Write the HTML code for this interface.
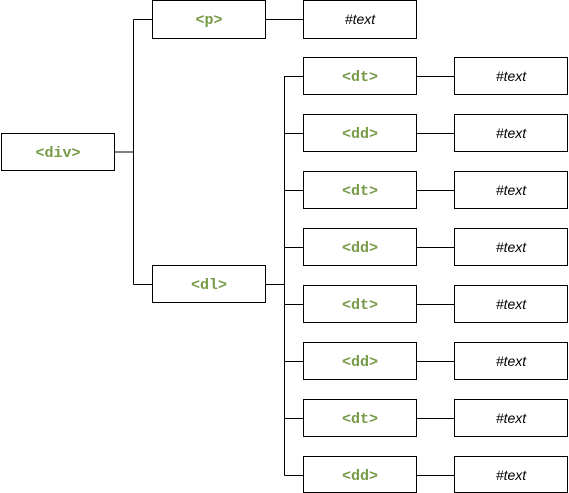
<!DOCTYPE html>
<html><head><style>body{margin:0;background:#fff}
.m{font-family:"Liberation Mono",monospace;font-weight:bold;font-size:15px;fill:#769a47;text-anchor:middle}
.t{font-family:"Liberation Sans",sans-serif;font-style:italic;font-size:14px;text-anchor:middle}
</style></head><body>
<svg width="569" height="493" xmlns="http://www.w3.org/2000/svg" style="display:block">
<g fill="none" stroke="#000" stroke-width="1">
<rect x="1.5" y="133.5" width="113" height="37"/>
<rect x="152.5" y="0.5" width="113" height="38"/>
<rect x="303.5" y="0.5" width="113" height="38"/>
<rect x="152.5" y="265.5" width="113" height="37"/>
<path d="M114.5 152H133.5M133.5 19.5V284.5M133.5 19.5H152.5M133.5 284.5H152.5M265.5 19.5H303.5M265.5 284.5H284.5M284.5 76V475.5"/>
<rect x="303.5" y="57.5" width="113" height="37"/><rect x="454.5" y="57.5" width="113" height="37"/>
<rect x="303.5" y="114.5" width="113" height="37"/><rect x="454.5" y="114.5" width="113" height="37"/>
<rect x="303.5" y="171.5" width="113" height="37"/><rect x="454.5" y="171.5" width="113" height="37"/>
<rect x="303.5" y="228.5" width="113" height="37"/><rect x="454.5" y="228.5" width="113" height="37"/>
<rect x="303.5" y="285.5" width="113" height="37"/><rect x="454.5" y="285.5" width="113" height="37"/>
<rect x="303.5" y="342.5" width="113" height="37"/><rect x="454.5" y="342.5" width="113" height="37"/>
<rect x="303.5" y="399.5" width="113" height="37"/><rect x="454.5" y="399.5" width="113" height="37"/>
<rect x="303.5" y="456.5" width="113" height="36"/><rect x="454.5" y="456.5" width="113" height="36"/>
<path d="M284.5 76.5H303.5M416.5 76.5H454.5M284.5 133.5H303.5M416.5 133.5H454.5M284.5 190.5H303.5M416.5 190.5H454.5M284.5 247.5H303.5M416.5 247.5H454.5M284.5 304.5H303.5M416.5 304.5H454.5M284.5 361.5H303.5M416.5 361.5H454.5M284.5 418.5H303.5M416.5 418.5H454.5M284.5 475.5H303.5M416.5 475.5H454.5"/>
</g>
<text class="m" x="58" y="157">&lt;div&gt;</text>
<text class="m" x="209" y="24">&lt;p&gt;</text>
<text class="m" x="209" y="289">&lt;dl&gt;</text>
<text class="t" x="360" y="24">#text</text>
<text class="m" x="360" y="81">&lt;dt&gt;</text><text class="t" x="511" y="81">#text</text>
<text class="m" x="360" y="138">&lt;dd&gt;</text><text class="t" x="511" y="138">#text</text>
<text class="m" x="360" y="195">&lt;dt&gt;</text><text class="t" x="511" y="195">#text</text>
<text class="m" x="360" y="252">&lt;dd&gt;</text><text class="t" x="511" y="252">#text</text>
<text class="m" x="360" y="309">&lt;dt&gt;</text><text class="t" x="511" y="309">#text</text>
<text class="m" x="360" y="366">&lt;dd&gt;</text><text class="t" x="511" y="366">#text</text>
<text class="m" x="360" y="423">&lt;dt&gt;</text><text class="t" x="511" y="423">#text</text>
<text class="m" x="360" y="480">&lt;dd&gt;</text><text class="t" x="511" y="480">#text</text>
</svg>
</body></html>
